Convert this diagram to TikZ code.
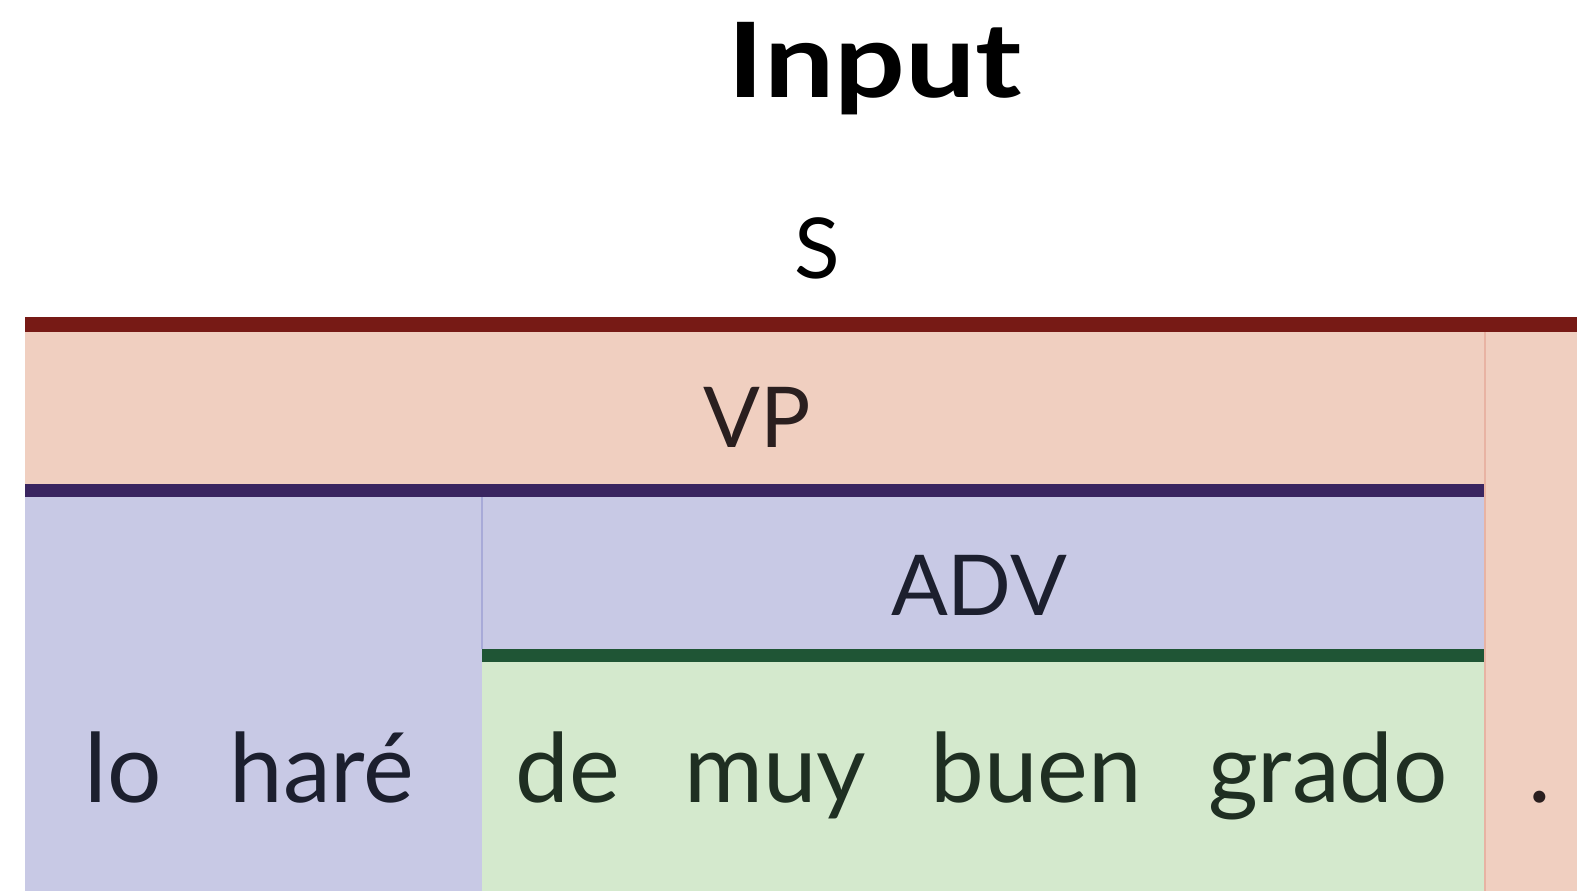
\documentclass[tikz,border=0pt]{standalone}
\usepackage{fontspec}
\setmainfont{Lato}
\definecolor{sbar}{HTML}{771A15}
\definecolor{sfill}{HTML}{F0CFC0}
\definecolor{sline}{HTML}{E8B3A3}
\definecolor{vbar}{HTML}{3A2560}
\definecolor{vfill}{HTML}{C8C9E5}
\definecolor{vline}{HTML}{A8AAD8}
\definecolor{abar}{HTML}{1F5535}
\definecolor{afill}{HTML}{D4E9CD}
\definecolor{vtext}{HTML}{1C1F2E}
\definecolor{atext}{HTML}{1F2F22}
\definecolor{stext}{HTML}{2A1F1F}
\tikzset{
  label/.style={anchor=base, inner sep=0pt, font=\fontsize{84}{84}\selectfont},
  word/.style={anchor=base, inner sep=0pt, font=\fontsize{96}{96}\selectfont},
}
\begin{document}
\begin{tikzpicture}[x=1pt,y=-1pt]
\useasboundingbox (0,0) rectangle (1577,891);
% S constituent
\fill[sfill] (25,332) rectangle (1577,891);
\fill[sbar] (25,317) rectangle (1577,332);
% VP constituent
\fill[vfill] (25,497) rectangle (1485,891);
\fill[vbar] (25,484) rectangle (1485,497);
% ADV constituent
\fill[afill] (482,662) rectangle (1485,891);
\fill[abar] (482,649) rectangle (1485,662);
% thin dividers
\draw[vline, line width=2pt] (482,497) -- (482,649);
\draw[sline, line width=1.5pt] (1485,332) -- (1485,891);
% titles and labels
\node[anchor=base, inner sep=0pt, font=\fontsize{104}{104}\selectfont\bfseries] (title) at (875,97) {\scalebox{1.2}[1]{Input}};
\node[label] (s) at (817,278) {S};
\node[label, text=stext] (vp) at (757,447) {VP};
\node[label, text=vtext] (adv) at (979,615) {ADV};
% words
\node[word, text=vtext] (w1) at (123,802) {lo};
\node[word, text=vtext] (w2) at (322,802) {haré};
\node[word, text=atext] (w3) at (568,802) {de};
\node[word, text=atext] (w4) at (775,802) {muy};
\node[word, text=atext] (w5) at (1036,802) {buen};
\node[word, text=atext] (w6) at (1328,802) {grado};
\node[word, text=stext] (w7) at (1540,802) {.};
\end{tikzpicture}
\end{document}
